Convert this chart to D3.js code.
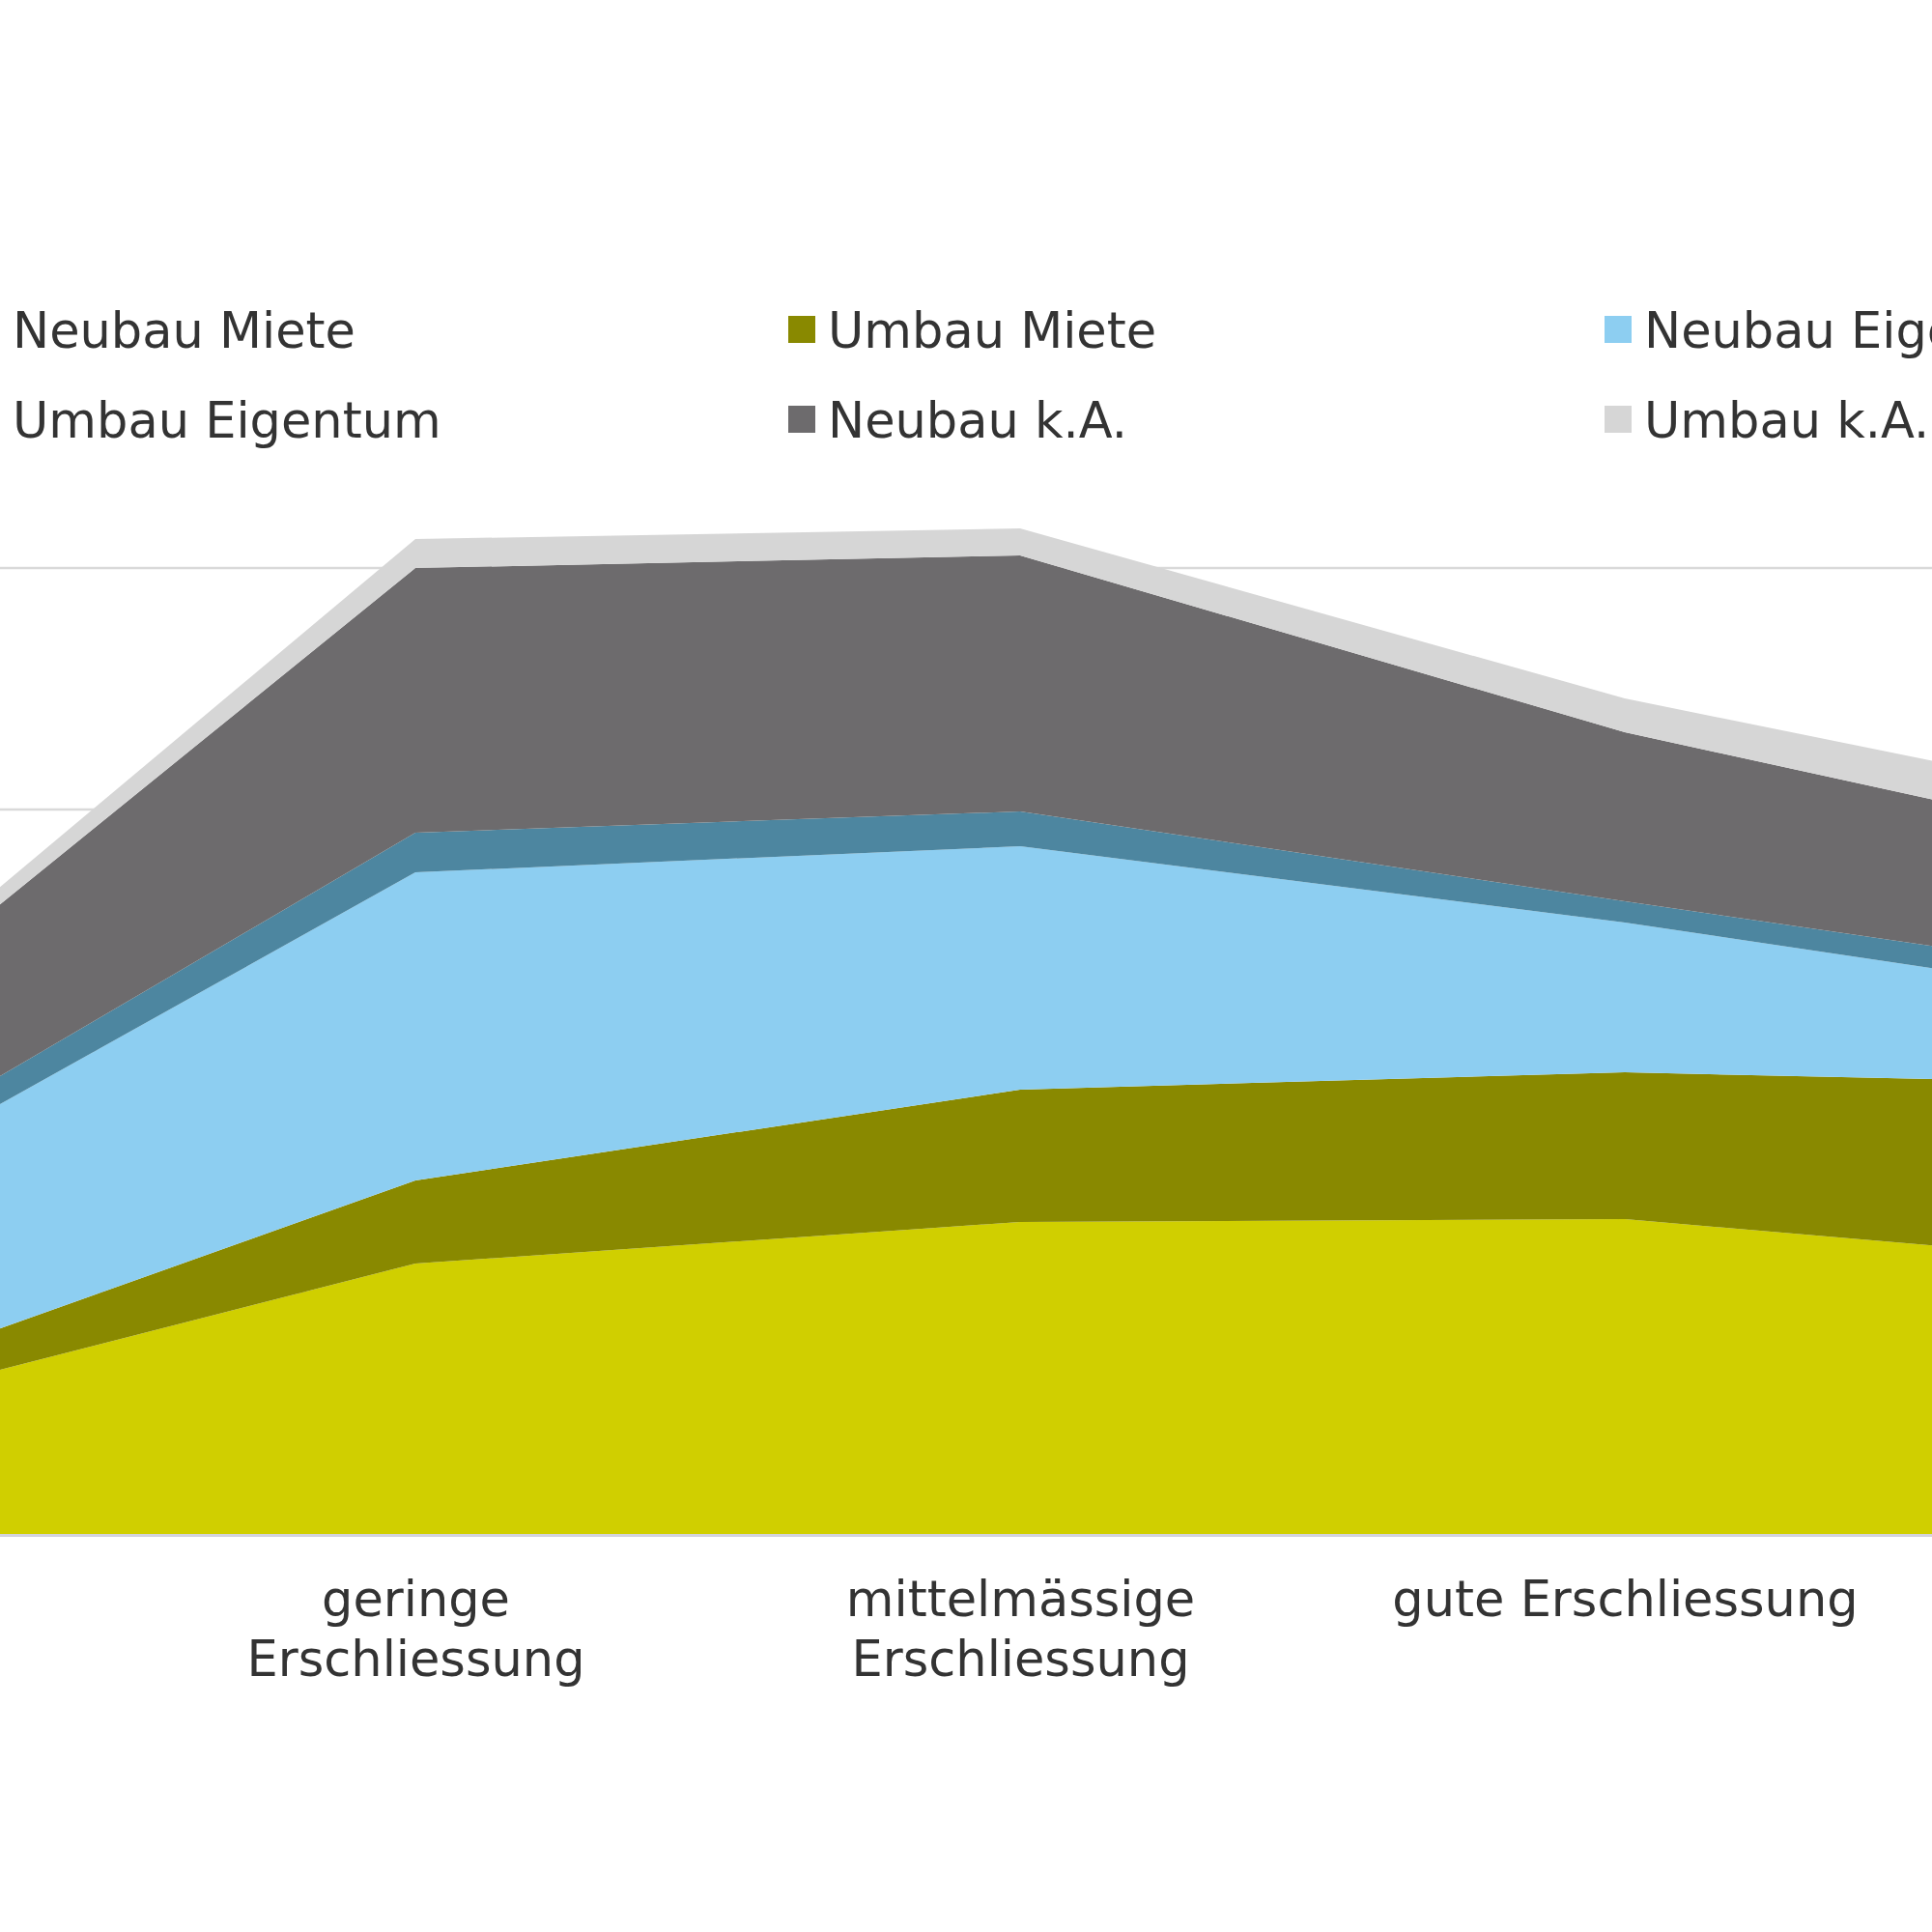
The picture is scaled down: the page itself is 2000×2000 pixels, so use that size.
<!DOCTYPE html>
<html>
<head>
<meta charset="utf-8">
<script src="https://cdn.jsdelivr.net/npm/d3@7"></script>
<style>
  html, body { margin: 0; padding: 0; background: #ffffff; }
  svg { display: block; overflow: hidden; }
</style>
</head>
<body>
<svg id="chart" width="2000" height="2000"></svg>
<script>
// ---- data ----
const categories = [
  "sehr geringe Erschliessung",
  "geringe Erschliessung",
  "mittelmässige Erschliessung",
  "gute Erschliessung",
  "sehr gute Erschliessung"
];
const seriesNames = [
  "Neubau Miete", "Umbau Miete", "Neubau Eigentum",
  "Umbau Eigentum", "Neubau k.A.", "Umbau k.A."
];
const neubauMiete    = [2.40, 5.60, 6.46, 6.52, 5.45];
const umbauMiete     = [0.46, 1.72, 2.74, 3.04, 3.83];
const neubauEigentum = [3.85, 6.38, 5.04, 3.10, 1.52];
const umbauEigentum  = [0.47, 0.82, 0.72, 0.44, 0.48];
const neubauKA       = [2.68, 5.48, 5.30, 3.50, 2.58];
const umbauKA        = [0.25, 0.60, 0.56, 0.70, 0.90];
const yTicks = [5, 10, 15, 20];
const colors = ["#d0cf00", "#898900", "#8dcef1", "#4d86a0", "#6d6b6d", "#d6d6d6"];

const seriesValues = [neubauMiete, umbauMiete, neubauEigentum, umbauEigentum, neubauKA, umbauKA];
const table = categories.map((c, i) => {
  const row = { cat: c };
  seriesNames.forEach((s, j) => row[s] = seriesValues[j][i]);
  return row;
});

// ---- layout ----
const W = 2000;
const svg = d3.select("#chart");
const fontFamily = "'DejaVu Sans', Verdana, sans-serif";
const textColor = "#333333";

const x = d3.scalePoint().domain(categories).range([-196, 2308]);
const y = d3.scaleLinear().domain([0, 20]).range([1588, 588]);

// gridlines
svg.append("g")
  .selectAll("line")
  .data(yTicks)
  .join("line")
  .attr("x1", 0).attr("x2", W)
  .attr("y1", d => y(d)).attr("y2", d => y(d))
  .attr("stroke", "#d9d9d9")
  .attr("stroke-width", 2.5);

// stacked areas
const stack = d3.stack().keys(seriesNames);
const layers = stack(table);
const area = d3.area()
  .x(d => x(d.data.cat))
  .y0(d => y(d[0]))
  .y1(d => y(d[1]));

svg.append("g")
  .selectAll("path")
  .data(layers)
  .join("path")
  .attr("d", area)
  .attr("fill", (d, i) => colors[i]);

// x axis (only categories whose position lies inside the visible frame get a label)
const xAxis = d3.axisBottom(x).tickSize(0).tickPadding(0);
const gx = svg.append("g")
  .attr("transform", `translate(0, ${y(0)})`)
  .call(xAxis);
gx.select(".domain")
  .attr("d", "M-300,1.5H2400")
  .attr("stroke", "#d3d3de")
  .attr("stroke-width", 3);

gx.selectAll(".tick")
  .filter(d => x(d) < 0 || x(d) > W)
  .remove();

gx.selectAll(".tick text")
  .attr("font-family", fontFamily)
  .attr("font-size", 51)
  .attr("fill", textColor)
  .attr("dy", null)
  .attr("y", 85)
  .each(function(d) {
    const t = d3.select(this);
    const words = d.split(" ");
    t.text(null);
    let lines = [];
    let line = [];
    const tmp = t.append("tspan");
    words.forEach(w => {
      const test = line.concat([w]).join(" ");
      tmp.text(test);
      if (tmp.node().getComputedTextLength() > 520 && line.length) {
        lines.push(line.join(" "));
        line = [w];
      } else {
        line.push(w);
      }
    });
    lines.push(line.join(" "));
    tmp.remove();
    lines.forEach((l, i) => {
      t.append("tspan").attr("x", 0).attr("y", 85 + i * 62).text(l);
    });
  });

// legend
const legendCols = [-28, 816, 1661];
const legendRows = [341, 434];
const legend = svg.append("g");
seriesNames.forEach((name, i) => {
  const col = i % 3, row = Math.floor(i / 3);
  const g = legend.append("g")
    .attr("transform", `translate(${legendCols[col]}, ${legendRows[row]})`);
  g.append("rect")
    .attr("x", 0).attr("y", -14)
    .attr("width", 28).attr("height", 28)
    .attr("fill", colors[i]);
  g.append("text")
    .attr("x", 41).attr("y", 19)
    .attr("font-family", fontFamily)
    .attr("font-size", 51)
    .attr("fill", textColor)
    .text(name);
});
</script>
</body>
</html>
